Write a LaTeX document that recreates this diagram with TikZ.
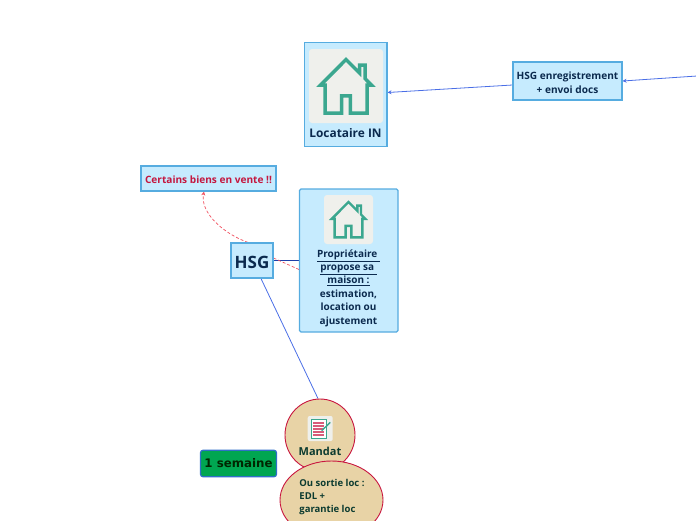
\documentclass[tikz,border=0pt]{standalone}
\usepackage{fontspec}
\setmainfont{Open Sans}
\newfontfamily\semainefont{DejaVu Sans}
\usepackage{tikz}
\usetikzlibrary{arrows.meta,backgrounds,shapes.geometric}
\definecolor{boxfill}{HTML}{C6EBFE}
\definecolor{boxline}{HTML}{56ACE0}
\definecolor{navytext}{HTML}{0B2A4E}
\definecolor{greentext}{HTML}{0C3B30}
\definecolor{crimsontext}{HTML}{C4173F}
\definecolor{housegreen}{HTML}{3BA78F}
\definecolor{iconback}{HTML}{EFF0EC}
\definecolor{sandfill}{HTML}{E8D3A6}
\definecolor{sandline}{HTML}{C8163F}
\definecolor{weekgreen}{HTML}{00A651}
\definecolor{weekline}{HTML}{2F6FC8}
\definecolor{linkblue}{HTML}{4A6EE6}
\definecolor{linkdark}{HTML}{1F3FA8}
\definecolor{linkred}{HTML}{F0505F}
\tikzset{
    bluebox/.style={draw=boxline, fill=boxfill, line width=1.1pt, inner sep=0pt, align=center, font=\bfseries\fontsize{10.1}{13.6}\selectfont, text=navytext},
    sandoval/.style={ellipse, draw=sandline, fill=sandfill, line width=0.9pt, inner sep=0pt, font=\bfseries\fontsize{10}{14}\selectfont, text=greentext},
    iconbox/.style={fill=iconback, rounded corners=3pt, inner sep=0pt},
    linkline/.style={linkblue, line width=0.8pt},
    linktip/.style={-{Stealth[length=4pt,width=4pt]}},
    redlink/.style={linkred, line width=0.7pt, densely dashed},
    pics/houseicon/.style={code={
        \draw[housegreen, line width=#1, line join=miter] (-25.4,-1) -- (0,-26.5) -- (13.5,-13) -- (13.5,-21) -- (19,-21) -- (19,-7.5) -- (25.4,-1) -- (21,-1) -- (21,27) -- (4.4,27) -- (4.4,9.75) -- (-4.4,9.75) -- (-4.4,27) -- (-21,27) -- (-21,-1) -- cycle;
    }}
}
\begin{document}
\begin{tikzpicture}[x=1pt,y=-1pt]
\path[use as bounding box, clip] (0,0) rectangle (696,520);
% top row
\node[bluebox, minimum width=82.5pt, minimum height=104pt] (locataire) at (345.75,94.5) {};
\node[iconbox, minimum width=74pt, minimum height=74pt] (locataireicon) at (346,86) {};
\pic at (locataireicon.center) {houseicon=3.5pt};
\node[inner sep=0pt, text=navytext, font=\bfseries\fontsize{11.9}{14}\selectfont] (locatairetxt) at (345.5,133) {Locataire IN};
\node[bluebox, minimum width=109pt, minimum height=38pt] (enregistrement) at (567.5,81) {\rule{0pt}{11.5pt}HSG enregistrement\\+ envoi docs};
\coordinate (offright) at (697,76);
% middle row
\node[bluebox, minimum width=135pt, minimum height=25pt, text=crimsontext] (certains) at (208.5,178.5) {\rule{0pt}{9.5pt}Certains biens en vente !!};
\node[bluebox, minimum width=42pt, minimum height=35pt, font=\bfseries\fontsize{17}{20}\selectfont] (hsg) at (252,260.5) {\rule{0pt}{16pt}HSG};
\node[bluebox, rounded corners=1.5pt, minimum width=98.5pt, minimum height=143pt] (proprio) at (348.75,260.5) {};
\node[iconbox, minimum width=49pt, minimum height=49pt] (proprioicon) at (348.5,219.5) {};
\pic[scale=0.66] at (proprioicon.center) {houseicon=2.4pt};
\node[inner sep=0pt, align=center, text=navytext, font=\bfseries\fontsize{10}{13.4}\selectfont] (propriotxt) at (348.5,288) {\underline{Propriétaire }\\\underline{propose sa }\\\underline{maison :}\\estimation,\\location ou\\ajustement};
% bottom
\node[sandoval, minimum width=70pt, minimum height=72pt] (mandat) at (320,435) {};
\node[fill=iconback, rounded corners=2pt, minimum width=25pt, minimum height=25pt, inner sep=0pt] (mandaticon) at (320.2,428.5) {};
\draw[housegreen, fill=white, line width=0.8pt] (311,419) rectangle (326,438.5);
\foreach \ly in {423,426,429,432,435} \draw[sandline!70, line width=1.1pt] (313,\ly) -- (324,\ly);
\draw[housegreen, line width=1.4pt] (321.7,430.7) -- (330.3,422.3);
\node[inner sep=0pt, text=greentext, font=\bfseries\fontsize{11}{14}\selectfont] (mandattxt) at (320,451) {Mandat};
\node[sandoval, minimum width=103pt, minimum height=78pt] (sortie) at (331.5,500) {};
\node[inner sep=0pt, align=left, text=greentext, font=\bfseries\fontsize{9.5}{13.4}\selectfont] (sortietxt) at (332,497) {Ou sortie loc :\\EDL +\\garantie loc};
\node[draw=weekline, fill=weekgreen, rounded corners=2.5pt, line width=1.2pt, inner sep=0pt, minimum width=76pt, minimum height=26.5pt, font=\semainefont\bfseries\fontsize{11.8}{15}\selectfont, text=black!85!green] (semaine) at (238.5,463.5) {1 semaine};
\coordinate (offbottom) at (378,524);
% connectors
\begin{pgfonlayer}{background}
\draw[linkline, linktip] (offright) -- (enregistrement.east);
\draw[linkline, linktip] ([yshift=-4pt]enregistrement.west) -- ([yshift=2pt]locataire.east);
\draw[linkdark, line width=0.9pt] (hsg.east) -- (proprio.west);
\draw[redlink] ([yshift=2.5pt]hsg.east) -- ([yshift=-9pt]proprio.west);
\draw[redlink, linktip] ([xshift=-4pt]hsg.north) .. controls (222,233) and (200,212) .. ([xshift=-4.5pt]certains.south);
\draw[linkline] ([xshift=9pt]hsg.south) -- ([xshift=-2pt]mandat.north);
\draw[linkdark, line width=0.7pt] ([xshift=27pt,yshift=-25pt]mandat.south) -- (offbottom);
\end{pgfonlayer}
\end{tikzpicture}
\end{document}
